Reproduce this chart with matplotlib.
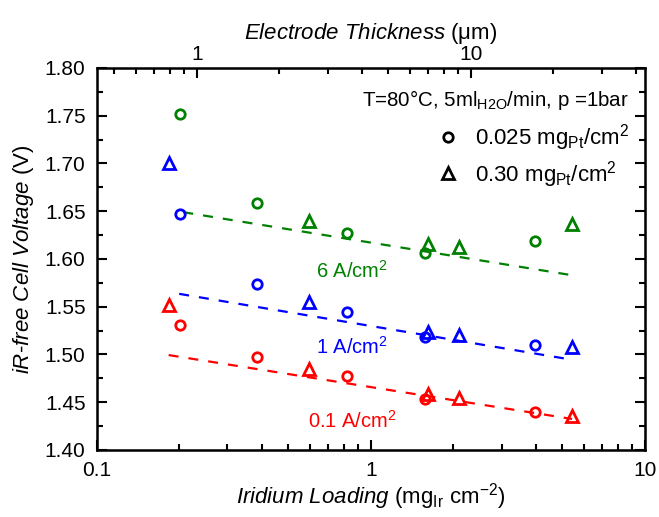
import matplotlib
matplotlib.use('Agg')
import matplotlib.pyplot as plt
import matplotlib.ticker as ticker
from matplotlib.lines import Line2D

plt.rcParams['font.family'] = 'Liberation Sans'
plt.rcParams['mathtext.fontset'] = 'custom'
plt.rcParams['mathtext.rm'] = 'Liberation Sans'
plt.rcParams['mathtext.it'] = 'Liberation Sans:italic'
plt.rcParams['mathtext.bf'] = 'Liberation Sans:bold'

# iridium loading (mg_Ir/cm2) for the two Pt loadings
load_c = [0.201, 0.386, 0.821, 1.578, 3.98]     # 0.025 mgPt/cm2 (circles)
load_t = [0.183, 0.597, 1.623, 2.105, 5.415]    # 0.30 mgPt/cm2 (triangles)
load_t6 = [0.597, 1.623, 2.105, 5.415]

# iR-free cell voltage (V)
v6_c = [1.752, 1.659, 1.627, 1.606, 1.619]
v6_t = [1.640, 1.616, 1.613, 1.637]
v1_c = [1.647, 1.574, 1.545, 1.518, 1.510]
v1_t = [1.701, 1.555, 1.524, 1.520, 1.508]
v01_c = [1.531, 1.497, 1.477, 1.4535, 1.440]
v01_t = [1.552, 1.485, 1.459, 1.454, 1.436]

# dashed trend lines (end points)
fit_x6 = [0.207, 5.42]
fit_y6 = [1.649, 1.583]
fit_x1 = [0.200, 5.42]
fit_y1 = [1.5635, 1.4945]
fit_x01 = [0.183, 5.42]
fit_y01 = [1.4994, 1.4325]

thick_per_load = 4.316   # um of electrode per mg_Ir/cm2 (top axis)

green = '#008000'
blue = '#0000ff'
red = '#ff0000'

fig = plt.figure(figsize=(6.59, 5.17), dpi=100)
ax = fig.add_axes([0.1467, 0.1296, 0.832, 0.7389])

ms_c = 6.8
ms_t = 8.2
mew = 2.0

for xs, ys, col in [(fit_x6, fit_y6, green), (fit_x1, fit_y1, blue), (fit_x01, fit_y01, red)]:
    ax.plot(xs, ys, color=col, lw=1.6, dashes=(4.5, 4.5))

ax.plot(load_c, v6_c, 'o', mfc='none', mec=green, ms=ms_c, mew=mew)
ax.plot(load_t6, v6_t, '^', mfc='none', mec=green, ms=ms_t, mew=mew)
ax.plot(load_c, v1_c, 'o', mfc='none', mec=blue, ms=ms_c, mew=mew)
ax.plot(load_t, v1_t, '^', mfc='none', mec=blue, ms=ms_t, mew=mew)
ax.plot(load_c, v01_c, 'o', mfc='none', mec=red, ms=ms_c, mew=mew)
ax.plot(load_t, v01_t, '^', mfc='none', mec=red, ms=ms_t, mew=mew)

ax.text(0.855, 1.588, '6 A/cm$^2$', color=green, fontsize=14.5, ha='center', va='center')
ax.text(0.855, 1.508, '1 A/cm$^2$', color=blue, fontsize=14.5, ha='center', va='center')
ax.text(0.86, 1.430, '0.1 A/cm$^2$', color=red, fontsize=14.5, ha='center', va='center')

ax.set_xscale('log')
ax.set_xlim(0.1, 10)
ax.set_ylim(1.40, 1.80)
ax.yaxis.set_major_locator(ticker.MultipleLocator(0.05))
ax.yaxis.set_minor_locator(ticker.MultipleLocator(0.025))
ax.yaxis.set_major_formatter(ticker.FormatStrFormatter('%.2f'))
ax.xaxis.set_major_formatter(ticker.FuncFormatter(lambda v, p: '%g' % v))
ax.xaxis.set_minor_formatter(ticker.NullFormatter())
ax.tick_params(which='both', direction='in', left=True, right=True, bottom=True, top=False,
               width=1.5, labelsize=15)
ax.tick_params(axis='y', which='major', length=7, pad=8)
ax.tick_params(axis='x', which='major', length=7, pad=8)
ax.tick_params(which='minor', length=4.5)
for sp in ax.spines.values():
    sp.set_linewidth(1.8)

ax.set_xlabel(r'$\mathit{Iridium\ Loading}$ (mg$_{\mathrm{Ir}}$ cm$^{-2}$)', fontsize=16, labelpad=1)
ax.set_ylabel(r'$\mathit{iR\text{-}free\ Cell\ Voltage}$ (V)', fontsize=16, labelpad=6)

ax2 = ax.twiny()
ax2.set_xscale('log')
ax2.set_xlim(0.1 * thick_per_load, 10 * thick_per_load)
ax2.xaxis.set_major_formatter(ticker.FuncFormatter(lambda v, p: '%g' % v))
ax2.xaxis.set_minor_formatter(ticker.NullFormatter())
ax2.tick_params(which='both', direction='in', width=1.5, labelsize=15)
ax2.tick_params(which='major', length=7, pad=3)
ax2.tick_params(which='minor', length=4.5)
ax2.set_xlabel(r'$\mathit{Electrode\ Thickness}$ ($\mathrm{\mu}$m)', fontsize=16, labelpad=4)

ax.text(0.97, 0.915, 'T=80\u00b0C, 5ml$_{\\mathrm{H2O}}$/min, p =1bar', transform=ax.transAxes,
        fontsize=14.8, ha='right', va='center')
handles = [Line2D([], [], marker='o', ls='none', mfc='none', mec='k', ms=ms_c, mew=mew),
           Line2D([], [], marker='^', ls='none', mfc='none', mec='k', ms=ms_t, mew=mew)]
ax.legend(handles, ['0.025 mg$_{\\mathrm{Pt}}$/cm$^2$', '0.30 mg$_{\\mathrm{Pt}}$/cm$^2$'],
          loc='upper right', bbox_to_anchor=(0.995, 0.893), frameon=False, fontsize=16,
          handlelength=1.0, handletextpad=0.7, labelspacing=0.25, borderaxespad=0.2)

fig.savefig('out.png', dpi=100)
